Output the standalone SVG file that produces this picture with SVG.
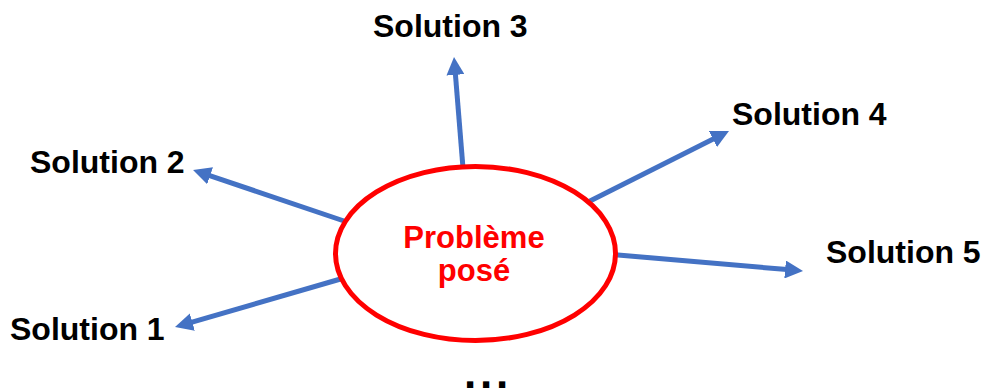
<svg xmlns="http://www.w3.org/2000/svg" width="983" height="389" viewBox="0 0 983 389">
  <style>
    .lbl { font-family: "Liberation Sans", Arial, sans-serif; font-weight: bold; font-size: 32px; fill: #000000; }
    .ctr { font-family: "Liberation Sans", Arial, sans-serif; font-weight: bold; font-size: 31px; fill: #FF0000; text-anchor: middle; }
    .conn { stroke: #4472C4; stroke-width: 5; fill: none; marker-end: url(#ah); }
  </style>
  <defs>
    <marker id="ah" markerUnits="userSpaceOnUse" markerWidth="18" markerHeight="18" refX="2" refY="9" orient="auto">
      <path d="M0,0 L18,9 L0,18 z" fill="#4472C4"/>
    </marker>
  </defs>
  <rect width="983" height="389" fill="#ffffff"/>
  <g id="connectors">
    <line class="conn" x1="463" y1="168" x2="455.3" y2="72.9"/>
    <line class="conn" x1="350" y1="223" x2="208.2" y2="175.1"/>
    <line class="conn" x1="344" y1="278" x2="190.4" y2="322.6"/>
    <line class="conn" x1="589" y1="201.5" x2="714.7" y2="138.2"/>
    <line class="conn" x1="615" y1="254.7" x2="787.1" y2="269.6"/>
  </g>
  <g id="probleme">
    <ellipse cx="475.5" cy="253.5" rx="140" ry="87" fill="#ffffff" stroke="#FF0000" stroke-width="5"/>
    <text class="ctr" x="474" y="248">Problème</text>
    <text class="ctr" x="474" y="281">posé</text>
  </g>
  <g id="solution1"><text class="lbl" x="10" y="340">Solution 1</text></g>
  <g id="solution2"><text class="lbl" x="30" y="173">Solution 2</text></g>
  <g id="solution3"><text class="lbl" x="373" y="37">Solution 3</text></g>
  <g id="solution4"><text class="lbl" x="732" y="125">Solution 4</text></g>
  <g id="solution5"><text class="lbl" x="826" y="263">Solution 5</text></g>
  <g id="etc"><text class="lbl" x="464" y="388" style="font-size:44px;letter-spacing:3.8px">...</text></g>
</svg>
